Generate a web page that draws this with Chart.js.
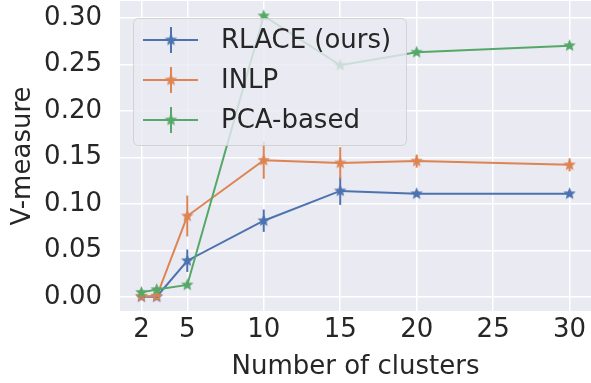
<!DOCTYPE html>
<html lang="en">
<head>
    <meta charset="UTF-8">
    <title>V-measure vs number of clusters</title>
    <script src="https://cdn.jsdelivr.net/npm/chart.js@4.4.2/dist/chart.umd.min.js"></script>
    <style>
        body { margin: 0; background: #ffffff; }
        #wrap { width: 591px; height: 383px; }
    </style>
</head>
<body>
    <div id="wrap"><canvas id="vmChart" width="591" height="383"></canvas></div>

    <script>
        // --- Data ---
        const clusters = [2, 3, 5, 10, 15, 20, 30];
        const xTicks = [2, 5, 10, 15, 20, 25, 30];
        const yTicks = [0, 0.05, 0.10, 0.15, 0.20, 0.25, 0.30];

        const rlace = [0.0003, 0.0003, 0.039, 0.082, 0.114, 0.111, 0.111];
        const rlaceErr = [0.001, 0.001, 0.012, 0.012, 0.015, 0.002, 0.002];

        const inlp = [0.0008, 0.0008, 0.087, 0.147, 0.144, 0.146, 0.142];
        const inlpErr = [0.001, 0.001, 0.022, 0.020, 0.017, 0.007, 0.007];

        const pca = [0.005, 0.008, 0.013, 0.302, 0.249, 0.263, 0.270];
        const pcaErr = [0.001, 0.001, 0.001, 0.001, 0.001, 0.001, 0.001];

        const seriesNames = ['RLACE (ours)', 'INLP', 'PCA-based'];
        const seriesColors = ['#4c72b0', '#dd8452', '#55a868'];

        const FONT = "'DejaVu Sans', sans-serif";
        const TEXT = '#262626';

        // filled five-point star, like matplotlib's '*' marker
        function makeStar(color, r) {
            const c = document.createElement('canvas');
            const size = Math.ceil(r * 2 + 2);
            c.width = size;
            c.height = size;
            const g = c.getContext('2d');
            const cx = size / 2, cy = size / 2;
            const inner = r * 0.45;
            g.beginPath();
            for (let i = 0; i < 10; i++) {
                const rad = i % 2 === 0 ? r : inner;
                const a = -Math.PI / 2 + i * Math.PI / 5;
                const px = cx + rad * Math.cos(a);
                const py = cy + rad * Math.sin(a);
                if (i === 0) g.moveTo(px, py); else g.lineTo(px, py);
            }
            g.closePath();
            g.fillStyle = color;
            g.fill();
            return c;
        }

        const stars = seriesColors.map(c => makeStar(c, 6.5));
        const values = [rlace, inlp, pca];
        const errors = [rlaceErr, inlpErr, pcaErr];

        // --- Plugins ---
        const plotBackground = {
            id: 'plotBackground',
            beforeDraw(chart) {
                const { ctx, chartArea: a } = chart;
                ctx.save();
                ctx.fillStyle = '#eaeaf2';
                ctx.fillRect(a.left, a.top, a.right - a.left, a.bottom - a.top);
                ctx.restore();
            }
        };

        const errorBars = {
            id: 'errorBars',
            afterDatasetsDraw(chart) {
                const { ctx, scales } = chart;
                ctx.save();
                ctx.lineWidth = 2;
                values.forEach((vals, s) => {
                    ctx.strokeStyle = seriesColors[s];
                    vals.forEach((v, i) => {
                        const px = scales.x.getPixelForValue(clusters[i]);
                        const top = scales.y.getPixelForValue(v + errors[s][i]);
                        const bot = scales.y.getPixelForValue(v - errors[s][i]);
                        ctx.beginPath();
                        ctx.moveTo(px, top);
                        ctx.lineTo(px, bot);
                        ctx.stroke();
                    });
                });
                ctx.restore();
            }
        };

        // legend box drawn inside the plot, over the lines
        const boxLegend = {
            id: 'boxLegend',
            afterDraw(chart) {
                const { ctx } = chart;
                const x = 133, y = 18, w = 273, h = 127, r = 5;
                ctx.save();
                ctx.beginPath();
                ctx.roundRect(x + 0.5, y + 0.5, w, h, r);
                ctx.fillStyle = 'rgba(234, 234, 242, 0.8)';
                ctx.fill();
                ctx.strokeStyle = 'rgba(204, 204, 204, 0.8)';
                ctx.lineWidth = 1;
                ctx.stroke();

                seriesNames.forEach((name, i) => {
                    const cy = 40 + i * 40;
                    ctx.strokeStyle = seriesColors[i];
                    ctx.lineWidth = 2;
                    ctx.beginPath();
                    ctx.moveTo(143, cy);
                    ctx.lineTo(198, cy);
                    ctx.moveTo(171, cy - 13);
                    ctx.lineTo(171, cy + 13);
                    ctx.stroke();
                    const st = stars[i];
                    ctx.drawImage(st, 171 - st.width / 2, cy - st.height / 2);
                    ctx.fillStyle = TEXT;
                    ctx.font = '26px ' + FONT;
                    ctx.textBaseline = 'middle';
                    ctx.textAlign = 'left';
                    ctx.fillText(name, 221, cy + 1);
                });
                ctx.restore();
            }
        };

        const datasets = values.map((vals, s) => ({
            label: seriesNames[s],
            data: vals.map((v, i) => ({ x: clusters[i], y: v })),
            borderColor: seriesColors[s],
            backgroundColor: seriesColors[s],
            borderWidth: 2,
            pointStyle: stars[s],
            pointRadius: 7,
            pointHoverRadius: 7,
            fill: false,
            tension: 0,
            order: 2 - s
        }));

        new Chart(document.getElementById('vmChart'), {
            type: 'line',
            data: { datasets },
            options: {
                responsive: false,
                devicePixelRatio: 1,
                animation: false,
                layout: { autoPadding: false, padding: { top: 1, right: 0, bottom: 0, left: 0 } },
                plugins: {
                    legend: { display: false },
                    tooltip: { enabled: false }
                },
                scales: {
                    x: {
                        type: 'linear',
                        min: 0.6,
                        max: 31.4,
                        afterBuildTicks: scale => { scale.ticks = xTicks.map(v => ({ value: v })); },
                        afterFit: scale => {
                            scale.height = 72;
                            scale.paddingLeft = 0;
                            scale.paddingRight = 0;
                        },
                        grid: { color: '#ffffff', lineWidth: 1.5, drawTicks: false },
                        border: { display: false },
                        ticks: { color: TEXT, font: { family: FONT, size: 26 }, padding: 4, maxRotation: 0 },
                        title: {
                            display: true,
                            text: 'Number of clusters',
                            color: TEXT,
                            font: { family: FONT, size: 26 },
                            padding: { top: 0, bottom: 0 }
                        }
                    },
                    y: {
                        min: -0.015,
                        max: 0.318,
                        afterBuildTicks: scale => { scale.ticks = yTicks.map(v => ({ value: v })); },
                        afterFit: scale => {
                            scale.width = 120;
                            scale.paddingTop = 0;
                            scale.paddingBottom = 0;
                        },
                        grid: { color: '#ffffff', lineWidth: 1.5, drawTicks: false },
                        border: { display: false },
                        ticks: {
                            color: TEXT,
                            font: { family: FONT, size: 26 },
                            padding: 18,
                            callback: v => v.toFixed(2)
                        },
                        title: {
                            display: true,
                            text: 'V-measure',
                            color: TEXT,
                            font: { family: FONT, size: 26 },
                            padding: { top: 8, bottom: 0 }
                        }
                    }
                }
            },
            plugins: [plotBackground, errorBars, boxLegend]
        });
    </script>
</body>
</html>
